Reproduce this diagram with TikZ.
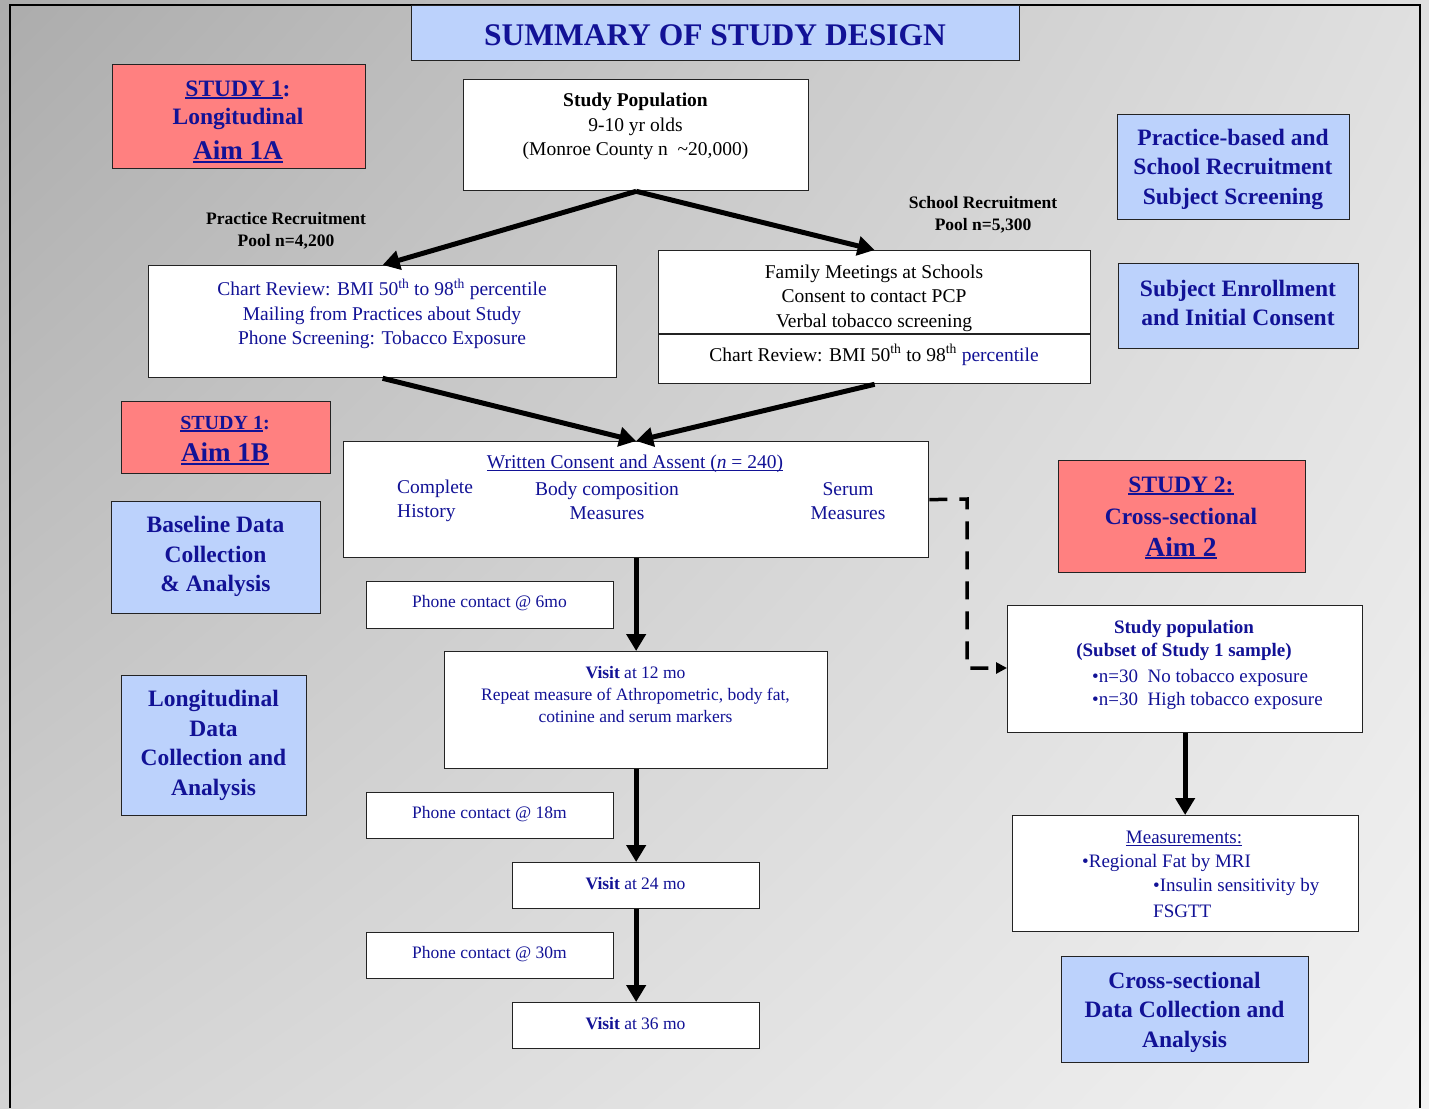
\documentclass[tikz,border=0pt]{standalone}
\usepackage{fontspec}
\setmainfont{Liberation Serif}
\usetikzlibrary{arrows.meta,shadings}
\definecolor{navyT}{RGB}{18,18,150}
\definecolor{pinkF}{RGB}{255,128,128}
\definecolor{blueF}{RGB}{188,210,252}
\definecolor{edgeC}{RGB}{35,35,35}
\definecolor{bgUL}{RGB}{172,172,172}
\definecolor{bgUR}{RGB}{224,224,224}
\definecolor{bgLL}{RGB}{212,212,212}
\definecolor{bgLR}{RGB}{242,242,242}
\newcommand{\ulx}[3]{\setbox0\hbox{#3}\rlap{\rule[-#1]{\wd0}{#2}}\box0}
\tikzset{
 box/.style={draw=edgeC, line width=1.3pt, inner sep=0pt, anchor=north west},
 wbox/.style={box, fill=white},
 bbox/.style={box, fill=blueF},
 pbox/.style={box, fill=pinkF},
 tx/.style={inner sep=0pt, yshift=-2pt},
 bt/.style={tx, text=navyT, font={\fontsize{19.5}{24.5}\selectfont}, align=center},
 kt/.style={tx, text=black, font={\fontsize{19.5}{24.5}\selectfont}, align=center},
 st/.style={tx, text=navyT, font={\fontsize{17.5}{22}\selectfont}, align=center},
 rl/.style={tx, text=black, font={\fontsize{17.5}{22}\selectfont\bfseries}, align=center},
 lab/.style={tx, text=navyT, font={\fontsize{23.5}{29.5}\selectfont\bfseries}, align=center},
 big/.style={tx, text=navyT, font={\fontsize{27}{32}\selectfont\bfseries}},
 arr/.style={line width=5pt, -{Triangle[length=17pt,width=19pt]}},
 dsh/.style={line width=3.5pt, dash pattern=on 18pt off 12pt, -{Triangle[length=11pt,width=11pt]}},
}
\begin{document}
\begin{tikzpicture}[x=1pt,y=-1pt]
\useasboundingbox (0,0) rectangle (1429,1108);
\shade[shading=bilinear interpolation, upper left=bgUL, upper right=bgUR, lower left=bgLL, lower right=bgLR] (0,0) rectangle (1429,1108);
\draw[line width=2pt, black] (9.5,1108) -- (9.5,5) -- (1420,5) -- (1420,1108);

% boxes
\node[bbox, minimum width=608pt, minimum height=55pt] (title) at (411,5) {};
\node[pbox, minimum width=253pt, minimum height=104pt] (s1a) at (112,64) {};
\node[wbox, minimum width=345pt, minimum height=111pt] (pop) at (463,79) {};
\node[wbox, minimum width=468pt, minimum height=112pt] (lrec) at (148,265) {};
\node[wbox, minimum width=432pt, minimum height=133pt] (rrec) at (658,250) {};
\node[bbox, minimum width=232pt, minimum height=105pt] (pbs) at (1117,114) {};
\node[bbox, minimum width=240pt, minimum height=85pt] (enr) at (1118,263) {};
\node[pbox, minimum width=209pt, minimum height=72pt] (s1b) at (121,401) {};
\node[bbox, minimum width=209pt, minimum height=112pt] (base) at (111,501) {};
\node[bbox, minimum width=185pt, minimum height=140pt] (long) at (121,675) {};
\node[wbox, minimum width=585pt, minimum height=116pt] (cons) at (343,441) {};
\node[wbox, minimum width=247pt, minimum height=47pt] (ph6) at (366,581) {};
\node[wbox, minimum width=383pt, minimum height=117pt] (v12) at (444,651) {};
\node[wbox, minimum width=247pt, minimum height=46pt] (ph18) at (366,792) {};
\node[wbox, minimum width=247pt, minimum height=46pt] (v24) at (512,862) {};
\node[wbox, minimum width=247pt, minimum height=46pt] (ph30) at (366,932) {};
\node[wbox, minimum width=247pt, minimum height=46pt] (v36) at (512,1002) {};
\node[pbox, minimum width=247pt, minimum height=112pt] (s2) at (1058,460) {};
\node[wbox, minimum width=355pt, minimum height=127pt] (spop) at (1007,605) {};
\node[wbox, minimum width=346pt, minimum height=116pt] (meas) at (1012,815) {};
\node[bbox, minimum width=247pt, minimum height=106pt] (xsec) at (1061,956) {};

\draw[line width=1.3pt, edgeC] (rrec.west |- 0,334) -- (rrec.east |- 0,334);

% texts
\node[tx, text=navyT, font={\fontsize{31.5}{36}\selectfont\bfseries}] (titlet) at (715,33) {SUMMARY OF STUDY DESIGN};
\node[lab] (s1a1) at (238,88) {\ulx{2.5pt}{1.8pt}{STUDY 1}:};
\node[lab] (s1a2) at (238,117) {Longitudinal};
\node[big] (s1a3) at (238,150) {\ulx{3pt}{2pt}{Aim 1A}};

\node[kt] (popt) at (635.5,124.5) {\textbf{Study Population}\\9-10 yr olds\\(Monroe County n\enspace\textasciitilde20,000)};
\node[rl] (prl) at (286,229) {Practice Recruitment\\Pool n=4,200};
\node[rl] (srl) at (983,213) {School Recruitment\\Pool n=5,300};

\node[bt] (lrect) at (382,312) {Chart Review: BMI 50\textsuperscript{th} to 98\textsuperscript{th} percentile\\Mailing from Practices about Study\\Phone Screening: Tobacco Exposure};
\node[kt] (rrect) at (874,296) {Family Meetings at Schools\\Consent to contact PCP\\Verbal tobacco screening};
\node[kt] (rrecb) at (874,353) {Chart Review: BMI 50\textsuperscript{th} to 98\textsuperscript{th} \textcolor{navyT}{percentile}};

\node[lab] (pbst) at (1233,167) {Practice-based and\\School Recruitment\\Subject Screening};
\node[lab] (enrt) at (1238,301) {Subject Enrollment\\and Initial Consent};

\node[lab, font={\fontsize{20}{24}\selectfont\bfseries}] (s1b1) at (225,422) {\ulx{2.2pt}{1.6pt}{STUDY 1}:};
\node[big] (s1b2) at (225,452) {\ulx{3pt}{2pt}{Aim 1B}};
\node[lab] (baset) at (215.5,554.5) {Baseline Data\\Collection\\\& Analysis};
\node[lab] (longt) at (213.5,743.5) {Longitudinal\\Data\\Collection and\\Analysis};

\node[bt] (cons1) at (635,462) {\ulx{2.5pt}{1pt}{Written Consent and Assent (\textit{n} = 240)}};
\node[bt, align=left, anchor=west] (cons2) at (397,499) {Complete\\History};
\node[bt] (cons3) at (607,499) {Body composition\\Measures};
\node[bt] (cons4) at (848,499) {Serum\\Measures};

\node[st] (ph6t) at (489.5,601) {Phone contact @ 6mo};
\node[st] (v12t) at (635.5,693) {\textbf{Visit} at 12 mo\\Repeat measure of Athropometric, body fat,\\cotinine and serum markers};
\node[st] (ph18t) at (489.5,812) {Phone contact @ 18m};
\node[st] (v24t) at (635.5,882) {\textbf{Visit} at 24 mo};
\node[st] (ph30t) at (489.5,952) {Phone contact @ 30m};
\node[st] (v36t) at (635.5,1022) {\textbf{Visit} at 36 mo};

\node[lab] (s21) at (1181,484) {\ulx{2.5pt}{1.8pt}{STUDY 2:}};
\node[lab] (s22) at (1181,514) {Cross-sectional};
\node[big, font={\fontsize{27.5}{32}\selectfont\bfseries}] (s23) at (1181,546) {\ulx{3pt}{2pt}{Aim 2}};

\node[bt, font={\fontsize{19}{24}\selectfont\bfseries}] (sp1) at (1184,627) {Study population};
\node[bt, font={\fontsize{19}{24}\selectfont\bfseries}] (sp2) at (1184,650) {(Subset of Study 1 sample)};
\node[bt, font={\fontsize{19}{24}\selectfont}, anchor=west] (sp3) at (1092,676) {•n=30\enspace No tobacco exposure};
\node[bt, font={\fontsize{19}{24}\selectfont}, anchor=west] (sp4) at (1092,699) {•n=30\enspace High tobacco exposure};

\node[bt, font={\fontsize{19}{24}\selectfont}] (m1) at (1184,837) {\ulx{2.5pt}{1pt}{Measurements:}};
\node[bt, font={\fontsize{19}{24}\selectfont}, anchor=west] (m2) at (1082,861) {•Regional Fat by MRI};
\node[bt, font={\fontsize{19}{24}\selectfont}, anchor=west] (m3) at (1153,885) {•Insulin sensitivity by};
\node[bt, font={\fontsize{19}{24}\selectfont}, anchor=west] (m4) at (1153,909) {FSGTT};

\node[lab] (xsect) at (1184.5,1010) {Cross-sectional\\Data Collection and\\Analysis};

% connectors
\draw[arr] (pop.south) -- (lrec.north);
\draw[arr] (pop.south) -- (rrec.north);
\draw[arr] (lrec.south) -- (cons.north);
\draw[arr] (rrec.south) -- (cons.north);
\draw[arr] (cons.south) -- (v12.north);
\draw[arr] (v12.south) -- (v24.north);
\draw[arr] (v24.south) -- (v36.north);
\draw[arr] (spop.south) -- (spop.south |- meas.north);
\coordinate (d1) at (967,499);
\coordinate (d2) at (967,668);
\draw[dsh] (cons.east) -- (d1) -- (d2) -- (spop.west |- d2);
\end{tikzpicture}
\end{document}
